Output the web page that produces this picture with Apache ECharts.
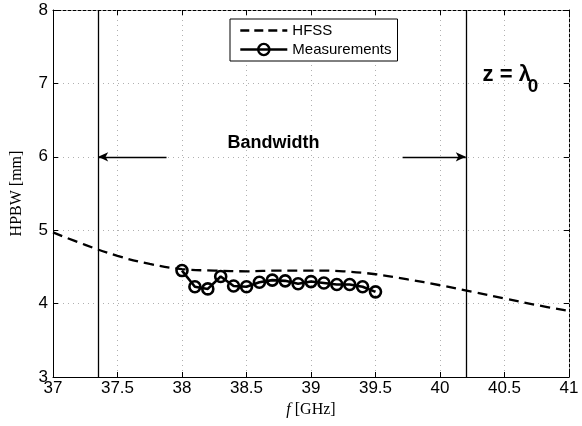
<!DOCTYPE html>
<html><head><meta charset="utf-8">
<script src="https://cdn.jsdelivr.net/npm/echarts@6/dist/echarts.min.js"></script>
<style>html,body{margin:0;padding:0;background:#fff}#c{width:582px;height:426px}</style>
</head><body><div id="c"></div>
<script>
const hfssX = [37, 37.25, 37.5, 37.75, 38, 38.25, 38.5, 38.75, 39, 39.25, 39.5, 39.75, 40, 40.25, 40.5, 40.75, 41];
const hfssY = [4.97, 4.80, 4.65, 4.54, 4.47, 4.45, 4.44, 4.45, 4.45, 4.44, 4.40, 4.33, 4.25, 4.16, 4.07, 3.98, 3.90];
const measX = [38.0, 38.1, 38.2, 38.3, 38.4, 38.5, 38.6, 38.7, 38.8, 38.9, 39.0, 39.1, 39.2, 39.3, 39.4, 39.5];
const measY = [4.45, 4.23, 4.20, 4.37, 4.24, 4.23, 4.29, 4.32, 4.31, 4.27, 4.30, 4.28, 4.26, 4.26, 4.23, 4.16];
const bandEdges = [37.35, 40.2];
const arrowLeft = [[37.88, 6], [37.35, 6]];
const arrowRight = [[39.71, 6], [40.2, 6]];
const xTicks = [37, 41, 0.5];
const yTicks = [3, 8, 1];
const bandLabelPos = [38.71, 6.19];
const zLabelPos = [40.33, 7.11];
const zSubPos = [40.68, 6.96];

const chart = echarts.init(document.getElementById('c'));
const tickFont = {color:'#000', fontFamily:'Liberation Sans, Arial', fontSize:17};
const split = {show:true, lineStyle:{color:'#b0b0b0', type:[1,4], width:1}};
chart.setOption({
  animation:false,
  grid:{left:53, right:13, top:10, bottom:49},
  legend:{
    left:230, top:19, orient:'vertical', itemGap:2, itemWidth:47, itemHeight:14,
    backgroundColor:'#fff', borderColor:'#000', borderWidth:1, padding:[3,6,3,9],
    textStyle:{color:'#000', fontFamily:'Liberation Sans, Arial', fontSize:15, lineHeight:17},
    data:[
      {name:'HFSS', itemStyle:{opacity:0}, lineStyle:{width:2.6, type:[9,5], color:'#000'}},
      {name:'Measurements', lineStyle:{width:2.6, color:'#000'}, itemStyle:{borderWidth:2.4}}
    ]
  },
  xAxis:[{
    type:'value', min:xTicks[0], max:xTicks[1], interval:xTicks[2],
    axisLine:{lineStyle:{color:'#000', width:1}}, axisTick:{inside:true, length:5, lineStyle:{color:'#000'}},
    axisLabel:Object.assign({margin:3}, tickFont), splitLine:split,
    name:'{i|f} [GHz]', nameLocation:'middle', nameGap:24,
    nameTextStyle:{color:'#000', fontFamily:'Liberation Serif, Times New Roman', fontSize:16,
      rich:{i:{fontStyle:'italic', fontFamily:'Liberation Serif', fontSize:16}}}
  },{
    type:'value', position:'top', min:xTicks[0], max:xTicks[1], interval:xTicks[2],
    axisLine:{lineStyle:{color:'#000', width:1, type:[3,2]}}, axisTick:{inside:true, length:5, lineStyle:{color:'#000'}},
    axisLabel:{show:false}, splitLine:{show:false}
  }],
  yAxis:[{
    type:'value', min:yTicks[0], max:yTicks[1], interval:yTicks[2],
    axisLine:{show:true, lineStyle:{color:'#000', width:1}}, axisTick:{show:true, inside:true, length:5, lineStyle:{color:'#000'}},
    axisLabel:Object.assign({margin:5}, tickFont), splitLine:split,
    name:'HPBW [mm]', nameLocation:'middle', nameGap:28, nameRotate:90,
    nameTextStyle:{color:'#000', fontFamily:'Liberation Serif, Times New Roman', fontSize:16}
  },{
    type:'value', position:'right', min:yTicks[0], max:yTicks[1], interval:yTicks[2],
    axisLine:{show:true, lineStyle:{color:'#000', width:1, type:[3,2]}}, axisTick:{show:true, inside:true, length:5, lineStyle:{color:'#000'}},
    axisLabel:{show:false}, splitLine:{show:false}
  }],
  series:[{
    name:'HFSS', type:'line', smooth:0.4, showSymbol:false, symbol:'none',
    data:hfssX.map((x,i)=>[x,hfssY[i]]),
    lineStyle:{color:'#000', width:2.3, type:[10,6]}, itemStyle:{color:'#000'},
    markLine:{
      silent:true, symbol:['none','none'], animation:false,
      lineStyle:{color:'#000', width:1.3, type:'solid'}, label:{show:false},
      data:[
        {xAxis:bandEdges[0]}, {xAxis:bandEdges[1]},
        [{coord:arrowLeft[0], symbol:'none'}, {coord:arrowLeft[1], symbol:'arrow', symbolSize:[7,10]}],
        [{coord:arrowRight[0], symbol:'none'}, {coord:arrowRight[1], symbol:'arrow', symbolSize:[7,10]}]
      ]
    },
    markPoint:{
      silent:true, symbol:'circle', symbolSize:0,
      data:[
        {coord:bandLabelPos, label:{show:true, position:'inside', formatter:'Bandwidth', color:'#000', fontWeight:'bold', fontSize:18, fontFamily:'Liberation Sans, Arial'}},
        {coord:zLabelPos, label:{show:true, position:'inside', align:'left', verticalAlign:'middle', formatter:'z = λ', color:'#000', fontWeight:'bold', fontSize:22, fontFamily:'Liberation Sans, Arial'}},
        {coord:zSubPos, label:{show:true, position:'inside', align:'left', verticalAlign:'middle', formatter:'0', color:'#000', fontWeight:'bold', fontSize:19, fontFamily:'Liberation Sans, Arial'}}
      ]
    }
  },{
    name:'Measurements', type:'line', symbol:'circle', symbolSize:11, showAllSymbol:true,
    data:measX.map((x,i)=>[x,measY[i]]),
    lineStyle:{color:'#000', width:2.6}, itemStyle:{color:'rgba(255,255,255,0)', borderColor:'#000', borderWidth:2.6}
  }]
});
</script></body></html>
